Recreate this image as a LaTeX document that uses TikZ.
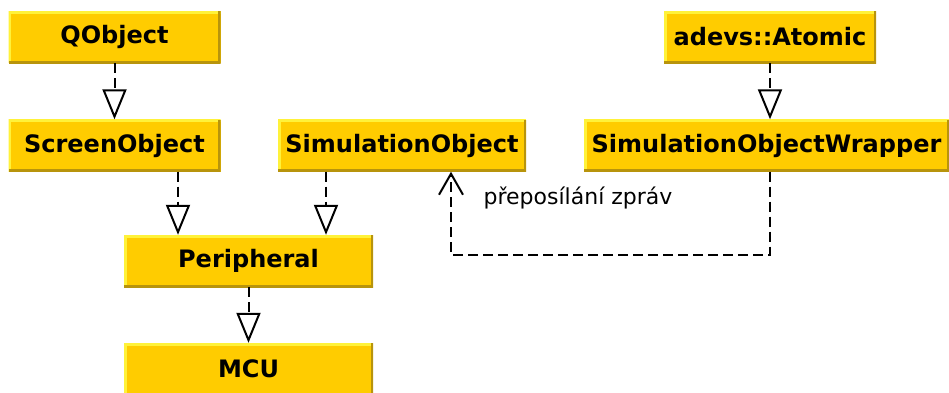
\documentclass[tikz,border=0pt]{standalone}
\usepackage{fontspec}
\setmainfont{DejaVu Sans}
\usetikzlibrary{arrows.meta}
\definecolor{clsfill}{HTML}{FFCC00}
\definecolor{clslight}{HTML}{FFF23A}
\definecolor{clsdark}{HTML}{B8940C}
\tikzset{
cls/.style={fill=clsfill, minimum height=52pt, inner sep=0pt,
  font=\fontsize{24}{28}\selectfont\bfseries,
  path picture={
    \draw[clslight, line width=5pt] (path picture bounding box.south west) |- (path picture bounding box.north east);
    \draw[clsdark, line width=5pt] (path picture bounding box.north east) |- (path picture bounding box.south west);
  }},
inherit/.style={line width=2pt, dash pattern=on 10pt off 5pt,
  -{Triangle[open, length=30pt, width=24pt, fill=white]}},
message/.style={line width=2pt, dash pattern=on 10pt off 5pt,
  -{Straight Barb[length=21pt, width=24pt]}}
}
\begin{document}
\begin{tikzpicture}[x=1pt, y=-1pt]
\useasboundingbox (0,0) rectangle (949,392);
% classes
\node[cls, minimum width=212pt] (qobject) at (114.5,37) {QObject};
\node[cls, minimum width=212pt] (atomic) at (770,37) {adevs::Atomic};
\node[cls, minimum width=212pt] (screen) at (114.5,145.5) {ScreenObject};
\node[cls, minimum width=248pt] (simobj) at (402,145.5) {SimulationObject};
\node[cls, minimum width=365pt] (wrapper) at (766.5,145.5) {SimulationObjectWrapper};
\node[cls, minimum width=249pt] (periph) at (248.5,261) {Peripheral};
\node[cls, minimum width=249pt] (mcu) at (248.5,369) {MCU};
% inheritance
\draw[inherit] (qobject.south) -- (screen.north);
\draw[inherit] (atomic.south) -- (atomic.south |- wrapper.north);
\draw[inherit] ([xshift=63.5pt]screen.south) -- ([xshift=63.5pt]screen.south |- periph.north);
\draw[inherit] ([xshift=-76pt]simobj.south) -- ([xshift=-76pt]simobj.south |- periph.north);
\draw[inherit] (periph.south) -- (mcu.north);
% forwarding
\draw[message] (atomic.south |- wrapper.south) -- ++(0,83) -| ([xshift=49pt]simobj.south);
\node[font=\fontsize{22}{26}\selectfont] (fwd) at (578,198) {přeposílání zpráv};
\end{tikzpicture}
\end{document}
